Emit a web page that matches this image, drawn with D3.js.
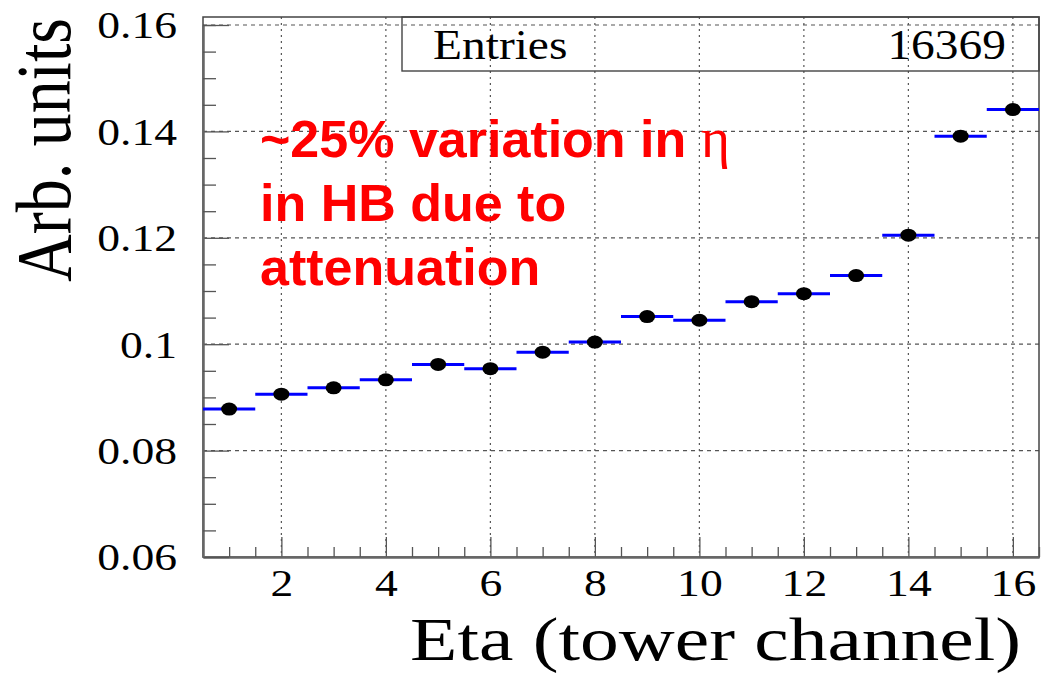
<!DOCTYPE html>
<html>
<head>
<meta charset="utf-8">
<script src="https://cdn.jsdelivr.net/npm/d3@7"></script>
<style>
  html, body { margin: 0; padding: 0; background: #ffffff; }
  svg { display: block; }
</style>
</head>
<body>
<svg id="chart" width="1041" height="674"></svg>
<script>
// ---- data ----
const channels = [1, 2, 3, 4, 5, 6, 7, 8, 9, 10, 11, 12, 13, 14, 15, 16];
const values = [0.0878, 0.0906, 0.0918, 0.0933, 0.0962, 0.0954, 0.0985, 0.1004,
                0.1052, 0.1045, 0.1080, 0.1095, 0.1129, 0.1205, 0.1391, 0.1441];
const xMajorTicks = [2, 4, 6, 8, 10, 12, 14, 16];
const xMinorTicks = [1, 1.5, 2.5, 3, 3.5, 4.5, 5, 5.5, 6.5, 7, 7.5, 8.5, 9, 9.5, 10.5, 11, 11.5,
                     12.5, 13, 13.5, 14.5, 15, 15.5, 16.5];
const yMajorTicks = [0.06, 0.08, 0.10, 0.12, 0.14, 0.16];
const yTickLabels = ["0.06", "0.08", "0.1", "0.12", "0.14", "0.16"];
const yMinorTicks = [0.065, 0.07, 0.075, 0.085, 0.09, 0.095, 0.105, 0.11, 0.115,
                     0.125, 0.13, 0.135, 0.145, 0.15, 0.155, 0.16];
const xGridTicks = [2, 4, 6, 8, 10, 12, 14, 16];
const yGridTicks = [0.08, 0.10, 0.12, 0.14, 0.16];
const entries = 16369;
const xTitle = "Eta (tower channel)";
const yTitle = "Arb. units";
const noteLines = ["~25% variation in ", "in HB due to", "attenuation"];

// ---- layout ----
const pLeft = 203, pRight = 1039, pTop = 17, pBottom = 557;
const serif = "'Liberation Serif', 'Times New Roman', Times, serif";
const sans = "'Liberation Sans', Arial, Helvetica, sans-serif";
const stretch = 1.2;

const svg = d3.select("#chart");
svg.append("rect").attr("width", 1041).attr("height", 674).attr("fill", "#fff");

const x = d3.scaleLinear().domain([0.5, 16.5]).range([pLeft, pRight]);
const y = d3.scaleLinear().domain([0.06, 0.16]).range([pBottom, 25]);

// grid
const grid = svg.append("g");
grid.selectAll("line.vg").data(xGridTicks).join("line")
  .attr("x1", d => x(d)).attr("x2", d => x(d))
  .attr("y1", pTop).attr("y2", pBottom)
  .attr("stroke", "#555").attr("stroke-width", 1.2)
  .attr("stroke-dasharray", "2,4");
grid.selectAll("line.hg").data(yGridTicks).join("line")
  .attr("x1", pLeft).attr("x2", pRight)
  .attr("y1", d => y(d)).attr("y2", d => y(d))
  .attr("stroke", "#555").attr("stroke-width", 1.2)
  .attr("stroke-dasharray", "4,4");

// frame
svg.append("rect")
  .attr("x", pLeft).attr("y", pTop)
  .attr("width", pRight - pLeft).attr("height", pBottom - pTop)
  .attr("fill", "none").attr("stroke", "#444").attr("stroke-width", 1.5);

// x axis
const gx = svg.append("g").attr("transform", `translate(0,${pBottom})`);
gx.call(d3.axisBottom(x).tickValues(xMajorTicks).tickSizeInner(-20).tickSizeOuter(0).tickPadding(12)
  .tickFormat(d3.format("d")));
const gxm = svg.append("g").attr("transform", `translate(0,${pBottom})`);
gxm.call(d3.axisBottom(x).tickValues(xMinorTicks).tickSizeInner(-10).tickSizeOuter(0).tickFormat(""));
[gx, gxm].forEach(g => {
  g.select(".domain").attr("stroke", "#666").attr("stroke-width", 2);
  g.selectAll(".tick line").attr("stroke", "#555").attr("stroke-width", 1.3);
});
gx.selectAll(".tick text")
  .attr("font-family", serif).attr("font-size", 38).attr("fill", "#000")
  .attr("transform", `scale(${stretch},1)`);

// y axis
const gy = svg.append("g").attr("transform", `translate(${pLeft},0)`);
gy.call(d3.axisLeft(y).tickValues(yMajorTicks).tickSizeInner(-26).tickSizeOuter(0)
  .tickFormat((d, i) => yTickLabels[i]));
const gym = svg.append("g").attr("transform", `translate(${pLeft},0)`);
gym.call(d3.axisLeft(y).tickValues(yMinorTicks).tickSizeInner(-13).tickSizeOuter(0).tickFormat(""));
[gy, gym].forEach(g => {
  g.select(".domain").attr("stroke", "#666").attr("stroke-width", 2);
  g.selectAll(".tick line").attr("stroke", "#555").attr("stroke-width", 1.3);
});
gy.selectAll(".tick text")
  .attr("font-family", serif).attr("font-size", 38).attr("fill", "#000")
  .attr("x", -26 / stretch).attr("dy", "0.34em")
  .attr("transform", `scale(${stretch},1)`);

// stat box
svg.append("rect")
  .attr("x", 402).attr("y", pTop).attr("width", pRight - 402).attr("height", 54)
  .attr("fill", "none").attr("stroke", "#444").attr("stroke-width", 1.4);
svg.append("text")
  .attr("transform", `translate(433,59) scale(1.13,1)`)
  .attr("font-family", serif).attr("font-size", 42).attr("fill", "#000")
  .text("Entries");
svg.append("text")
  .attr("transform", `translate(1006,59) scale(1.13,1)`)
  .attr("text-anchor", "end")
  .attr("font-family", serif).attr("font-size", 42).attr("fill", "#000")
  .text(d3.format("d")(entries));

// data: bin lines and markers
const bins = channels.map((c, i) => ({ c, v: values[i] }));
svg.append("g").selectAll("line").data(bins).join("line")
  .attr("x1", d => x(d.c - 0.5)).attr("x2", d => x(d.c + 0.5))
  .attr("y1", d => y(d.v)).attr("y2", d => y(d.v))
  .attr("stroke", "#0000ff").attr("stroke-width", 3);
svg.append("g").selectAll("ellipse").data(bins).join("ellipse")
  .attr("cx", d => x(d.c)).attr("cy", d => y(d.v))
  .attr("rx", 8).attr("ry", 6.5).attr("fill", "#000");

// annotation
const note = svg.append("g").attr("fill", "#ff0000");
const l1 = note.append("text").attr("x", 260).attr("y", 157)
  .attr("font-family", sans).attr("font-weight", "bold").attr("font-size", 52);
l1.append("tspan").text(noteLines[0]);
l1.append("tspan").attr("font-family", serif).attr("font-weight", "normal")
  .attr("font-size", 56).text("η");
note.append("text").attr("x", 260).attr("y", 221)
  .attr("font-family", sans).attr("font-weight", "bold").attr("font-size", 52).text(noteLines[1]);
note.append("text").attr("x", 260).attr("y", 285)
  .attr("font-family", sans).attr("font-weight", "bold").attr("font-size", 52).text(noteLines[2]);

// axis titles
svg.append("text")
  .attr("transform", `translate(1021,660) scale(1.25,1)`)
  .attr("text-anchor", "end")
  .attr("font-family", serif).attr("font-size", 62).attr("fill", "#000")
  .text(xTitle);
svg.append("text")
  .attr("transform", `translate(70,150) scale(${stretch},1) rotate(-90)`)
  .attr("text-anchor", "middle")
  .attr("font-family", serif).attr("font-size", 66).attr("fill", "#000")
  .text(yTitle);
</script>
</body>
</html>
